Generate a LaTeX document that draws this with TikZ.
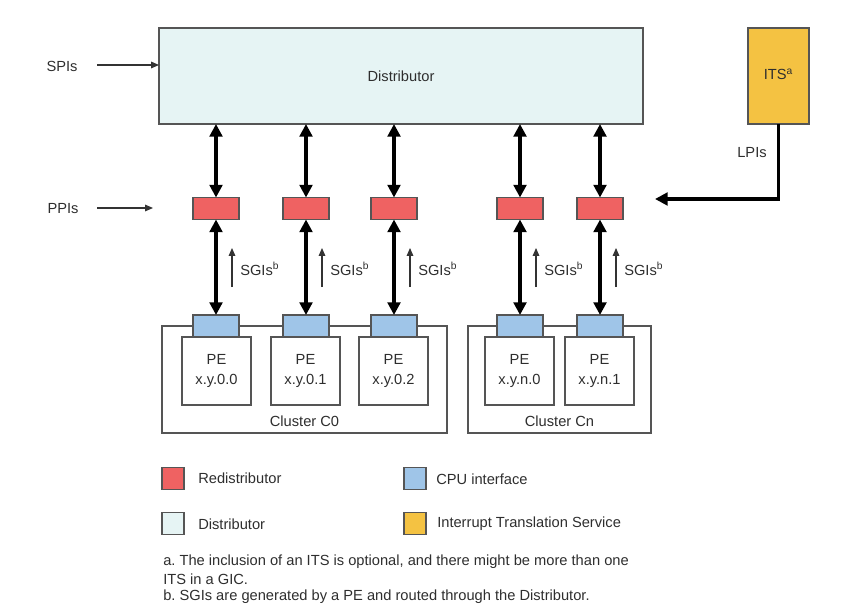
\documentclass[tikz,border=0pt]{standalone}
\usepackage{fontspec}
\setmainfont{Liberation Sans}
\usetikzlibrary{arrows.meta}
\definecolor{redfill}{HTML}{EF6262}
\definecolor{bluefill}{HTML}{9FC5E8}
\definecolor{distfill}{HTML}{E6F4F4}
\definecolor{itsfill}{HTML}{F4C242}
\definecolor{edge}{HTML}{555555}
\definecolor{txt}{HTML}{2E2E2E}
\frenchspacing
\tikzset{
  box/.style={draw=edge, line width=0.9pt, inner sep=0pt, outer sep=0pt, rectangle},
  redbox/.style={box, fill=redfill, minimum width=34.5pt, minimum height=16.5pt},
  bluebox/.style={box, fill=bluefill, minimum width=34.5pt, minimum height=16.5pt},
  pebox/.style={box, fill=white, minimum width=51.75pt, minimum height=51pt, align=center, text=txt, font=\fontsize{11}{15}\selectfont},
  clusterbox/.style={box, fill=white, minimum height=80.25pt},
  lbl/.style={text=txt, font=\fontsize{11}{13}\selectfont, inner sep=0pt},
  dbl/.style={line width=2.5pt, {Triangle[length=9.5pt,width=9.5pt]}-{Triangle[length=9.5pt,width=9.5pt]}},
  onearr/.style={line width=2.5pt, -{Triangle[length=9.5pt,width=9.5pt]}},
  thinarr/.style={line width=0.8pt, draw=black!80, -{Triangle[length=6pt,width=5pt]}},
  legsq/.style={box, minimum width=16.5pt, minimum height=17pt}
}
\begin{document}
\begin{tikzpicture}[x=0.75pt,y=-0.75pt]
\useasboundingbox (0,0) rectangle (862,616);
% main boxes
\node[box, fill=distfill, minimum width=363pt, minimum height=72pt] (dist) at (401,76) {};
\node[lbl] at (401,76) {Distributor};
\node[box, fill=itsfill, minimum width=45.75pt, minimum height=72pt] (its) at (778.5,76) {};
\node[lbl] at (778.5,74) {ITS\textsuperscript{a}};
% clusters
\node[clusterbox, minimum width=213.75pt] (c0) at (304.5,379.5) {};
\node[clusterbox, minimum width=137.25pt] (cn) at (559.5,379.5) {};
\node[lbl] at (304.5,421) {Cluster C0};
\node[lbl] at (559.5,421) {Cluster Cn};
% PEs
\node[pebox] (p1) at (216.5,371) {PE\\x.y.0.0};
\node[pebox] (p2) at (305.5,371) {PE\\x.y.0.1};
\node[pebox] (p3) at (393.5,371) {PE\\x.y.0.2};
\node[pebox] (p4) at (519.5,371) {PE\\x.y.n.0};
\node[pebox] (p5) at (599.5,371) {PE\\x.y.n.1};
% redistributors and CPU interfaces
\foreach \i/\x in {1/216,2/306,3/394,4/520,5/600}{
  \node[redbox] (r\i) at (\x,208.5) {};
  \node[bluebox] (b\i) at (\x,326) {};
  \draw[dbl] (r\i.north) -- (r\i.north |- dist.south);
  \draw[dbl] (r\i.south) -- (b\i.north);
  \coordinate (sa\i) at (\x+16,287);
  \coordinate (sb\i) at (\x+16,248);
  \draw[thinarr] (sa\i) -- (sb\i);
  \node[lbl, anchor=west] (sg\i) at (\x+24,269) {SGIs\textsuperscript{b}};
}
% SPIs / PPIs
\node[lbl] (spi) at (62,66) {SPIs};
\node[lbl] (ppi) at (63,209) {PPIs};
\coordinate (spis) at (97,65);
\coordinate (ppis) at (97,208);
\draw[thinarr] (spis) -- (spis -| dist.west);
\coordinate (ppie) at (153,208);
\draw[thinarr] (ppis) -- (ppie);
% LPIs
\coordinate (lpie) at (655,199);
\draw[onearr] (its.south) |- (lpie);
\node[lbl] at (752,153) {LPIs};
% legend
\node[legsq, fill=redfill] (l1) at (173,478.5) {};
\node[lbl, anchor=west] at (198,478) {Redistributor};
\node[legsq, fill=bluefill] (l2) at (415,478.5) {};
\node[lbl, anchor=west] at (436,479) {CPU interface};
\node[legsq, fill=distfill] (l3) at (173,523.5) {};
\node[lbl, anchor=west] at (198,524) {Distributor};
\node[legsq, fill=itsfill] (l4) at (415,523.5) {};
\node[lbl, anchor=west] at (437,524) {Interrupt Translation Service};
% footnotes
\node[lbl, anchor=west] at (163,562) {a. The inclusion of an ITS is optional, and there might be more than one};
\node[lbl, anchor=west] at (163,579) {ITS in a GIC.};
\node[lbl, anchor=west] at (163,597) {b. SGIs are generated by a PE and routed through the Distributor.};
\end{tikzpicture}
\end{document}
